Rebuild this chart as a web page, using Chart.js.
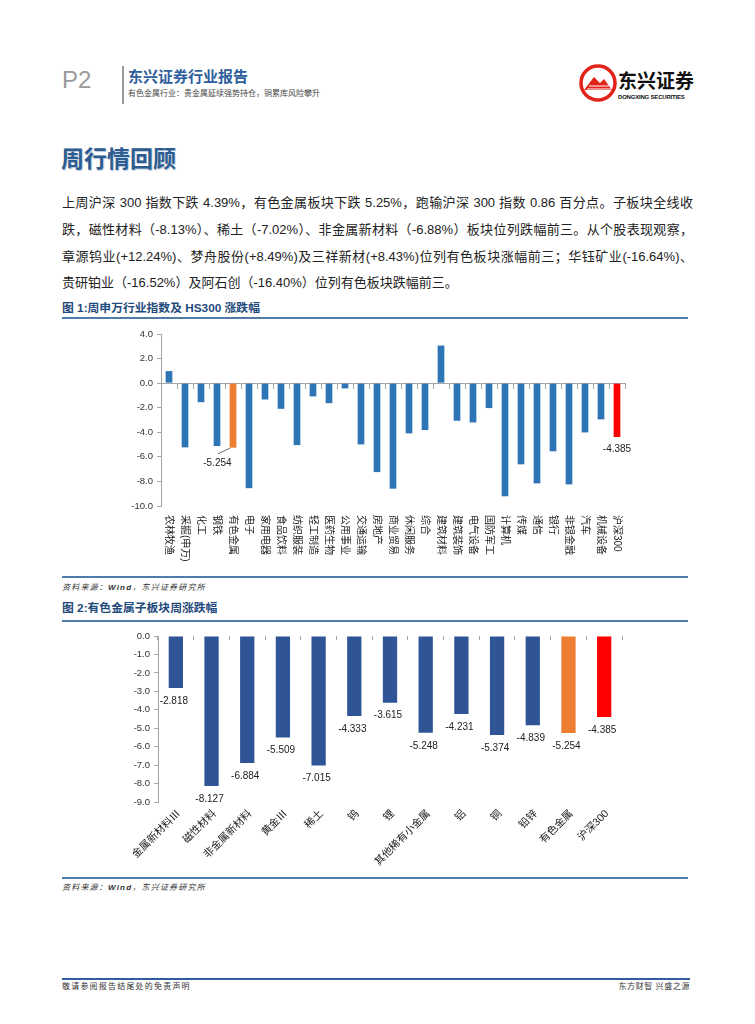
<!DOCTYPE html>
<html>
<head>
<meta charset="utf-8">
<script src="https://cdn.jsdelivr.net/npm/chart.js"></script>
<style>
    body { margin: 0; background: #fff; font-family: "Liberation Sans", "Noto Sans CJK SC", sans-serif; }
    #page { position: relative; width: 755px; height: 1024px; overflow: hidden; background: #fff; }
    .t { position: absolute; white-space: nowrap; line-height: 1; }
    .rule { position: absolute; left: 62px; width: 626px; height: 2px; background: #4f7cab; }
    .para { position: absolute; left: 62px; width: 631px; font-size: 13px; line-height: 1; color: #222;
            text-align: justify; text-align-last: justify; white-space: nowrap; }
    .fig { position: absolute; left: 62px; font-size: 11.8px; font-weight: bold; color: #1f4a7c; line-height: 1; white-space: nowrap; }
    .src { position: absolute; left: 62px; font-size: 8px; font-style: italic; color: #333; line-height: 1;
           white-space: nowrap; letter-spacing: 1.2px; }
    .box { position: absolute; left: 100px; width: 540px; }
</style>
</head>
<body>
<div id="page">
    <!-- header -->
    <div class="t" style="left:62px;top:68px;font-size:24px;color:#9a9a9a;">P2</div>
    <div style="position:absolute;left:122px;top:66px;width:1.5px;height:38px;background:#9a9a9a;"></div>
    <div class="t" style="left:128px;top:69px;font-size:15px;font-weight:bold;color:#2e5e9c;">东兴证券行业报告</div>
    <div class="t" style="left:128px;top:90px;font-size:8px;color:#444;">有色金属行业：贵金属延续强势持仓，铜累库风险攀升</div>
    <svg style="position:absolute;left:578px;top:63px;" width="40" height="40" viewBox="0 0 40 40">
        <circle cx="20" cy="20" r="17" fill="#fff" stroke="#e2231a" stroke-width="3.5"/>
        <path d="M6 27 L16 14 L22 20 L26 16 L34 27 Z" fill="#e2231a"/>
        <path d="M11 23 L31 23 M9 26 L33 26" stroke="#fff" stroke-width="1.2"/>
    </svg>
    <div class="t" style="left:618px;top:72px;font-size:19px;font-weight:bold;color:#111;">东兴证券</div>
    <div class="t" style="left:618px;top:94px;font-size:6px;font-weight:bold;color:#111;letter-spacing:-0.2px;">DONGXING SECURITIES</div>

    <!-- section -->
    <div class="t" style="left:61px;top:148px;font-size:23px;font-weight:bold;color:#2b5c8f;text-shadow:1px 1px 1px #b8c8dc;">周行情回顾</div>
    <div class="para" style="top:196px;">上周沪深 300 指数下跌 4.39%，有色金属板块下跌 5.25%，跑输沪深 300 指数 0.86 百分点。子板块全线收</div>
    <div class="para" style="top:223px;">跌，磁性材料（-8.13%）、稀土（-7.02%）、非金属新材料（-6.88%）板块位列跌幅前三。从个股表现观察，</div>
    <div class="para" style="top:250px;">章源钨业(+12.24%)、梦舟股份(+8.49%)及三祥新材(+8.43%)位列有色板块涨幅前三；华钰矿业(-16.64%)、</div>
    <div class="para" style="top:276px;text-align-last:left;">贵研铂业（-16.52%）及阿石创（-16.40%）位列有色板块跌幅前三。</div>

    <!-- figure 1 -->
    <div class="fig" style="top:303px;">图 1:周申万行业指数及 HS300 涨跌幅</div>
    <div class="rule" style="top:317px;"></div>
    <div class="box" style="top:322px;height:250px;"><canvas id="chart1"></canvas></div>
    <div class="rule" style="top:576px;"></div>
    <div class="src" style="top:584px;">资料来源：<b>Wind</b>，东兴证券研究所</div>

    <!-- figure 2 -->
    <div class="fig" style="top:603px;">图 2:有色金属子板块周涨跌幅</div>
    <div class="rule" style="top:620px;"></div>
    <div class="box" style="top:622px;height:255px;"><canvas id="chart2"></canvas></div>
    <div class="rule" style="top:877px;"></div>
    <div class="src" style="top:884px;">资料来源：<b>Wind</b>，东兴证券研究所</div>

    <!-- footer -->
    <div style="position:absolute;left:62px;top:978px;width:628px;height:2px;background:#2e5e9c;"></div>
    <div class="t" style="left:62px;top:983px;font-size:8px;color:#333;letter-spacing:1.2px;">敬请参阅报告结尾处的免责声明</div>
    <div class="t" style="right:65px;top:983px;font-size:8px;color:#333;letter-spacing:0.6px;">东方财智 兴盛之源</div>
</div>

<script>
    // figure 1: SW industries weekly change (%)
    var industries = ["农林牧渔", "采掘(申万)", "化工", "钢铁", "有色金属", "电子", "家用电器", "食品饮料",
        "纺织服装", "轻工制造", "医药生物", "公用事业", "交通运输", "房地产", "商业贸易", "休闲服务", "综合",
        "建筑材料", "建筑装饰", "电气设备", "国防军工", "计算机", "传媒", "通信", "银行", "非银金融", "汽车",
        "机械设备", "沪深300"];
    var industryChg = [0.98, -5.23, -1.55, -5.12, -5.254, -8.55, -1.33, -2.09, -5.04, -1.08, -1.63, -0.43,
        -4.99, -7.24, -8.59, -4.09, -3.82, 3.06, -3.06, -3.20, -2.03, -9.21, -6.61, -8.16, -5.55, -8.24,
        -4.01, -2.95, -4.385];
    var industryTicks = [4, 2, 0, -2, -4, -6, -8, -10];
    var industryLabeled = ["有色金属", "沪深300"];

    // figure 2: non-ferrous sub-sectors weekly change (%)
    var subSectors = ["金属新材料Ⅲ", "磁性材料", "非金属新材料", "黄金Ⅲ", "稀土", "钨", "锂",
        "其他稀有小金属", "铝", "铜", "铅锌", "有色金属", "沪深300"];
    var subSectorChg = [-2.818, -8.127, -6.884, -5.509, -7.015, -4.333, -3.615, -5.248, -4.231, -5.374,
        -4.839, -5.254, -4.385];
    var subSectorTicks = [0, -1, -2, -3, -4, -5, -6, -7, -8, -9];

    var FONT = '"Liberation Sans", "Noto Sans CJK SC", sans-serif';
    Chart.defaults.font.family = FONT;
    Chart.defaults.color = "#333";

    function barColors(names, blue) {
        return names.map(function (n) {
            if (n === "有色金属") return "#ed7d31";
            if (n === "沪深300") return "#ff0000";
            return blue;
        });
    }

    // category labels drawn below the plot (rotated)
    var catLabels = {
        id: "catLabels",
        afterDraw: function (chart, args, opts) {
            var ctx = chart.ctx;
            var xs = chart.scales.x;
            var area = chart.chartArea;
            ctx.save();
            ctx.font = opts.size + "px " + FONT;
            ctx.fillStyle = "#222";
            ctx.textBaseline = "middle";
            ctx.textAlign = opts.align;
            chart.data.labels.forEach(function (label, i) {
                ctx.save();
                ctx.translate(xs.getPixelForValue(i) + opts.dx, area.bottom + opts.dy);
                ctx.rotate(opts.angle);
                ctx.fillText(label, 0, 0);
                ctx.restore();
            });
            ctx.restore();
        }
    };

    // value labels under the bars
    var valueLabels = {
        id: "valueLabels",
        afterDatasetsDraw: function (chart, args, opts) {
            var ctx = chart.ctx;
            var meta = chart.getDatasetMeta(0);
            var data = chart.data.datasets[0].data;
            ctx.save();
            ctx.font = opts.size + "px " + FONT;
            ctx.fillStyle = "#222";
            ctx.textAlign = "center";
            ctx.textBaseline = "middle";
            meta.data.forEach(function (bar, i) {
                var name = chart.data.labels[i];
                if (opts.only && opts.only.indexOf(name) < 0) return;
                var off = (opts.offsets && opts.offsets[name]) || opts.offset;
                ctx.fillText(data[i].toFixed(3), bar.x + off[0], bar.y + off[1]);
                var ld = opts.leaders && opts.leaders[name];
                if (ld) {
                    ctx.strokeStyle = "#444";
                    ctx.lineWidth = 0.8;
                    ctx.beginPath();
                    ctx.moveTo(bar.x + ld[0], bar.y + ld[1]);
                    ctx.lineTo(bar.x + ld[2], bar.y + ld[3]);
                    ctx.stroke();
                }
            });
            ctx.restore();
        }
    };

    function yScale(ticks, width) {
        return {
            min: ticks[ticks.length - 1],
            max: ticks[0],
            afterFit: function (s) { s.width = width; },
            ticks: {
                stepSize: Math.abs(ticks[0] - ticks[1]),
                padding: 4,
                font: { size: 9.5 },
                color: "#333",
                callback: function (v) { return v.toFixed(1); }
            },
            grid: { drawOnChartArea: false, drawTicks: true, tickLength: 4, color: "#a6a6a6" },
            border: { color: "#a6a6a6" }
        };
    }

    var chart1 = new Chart(document.getElementById("chart1"), {
        type: "bar",
        data: {
            labels: industries,
            datasets: [{
                data: industryChg,
                backgroundColor: barColors(industries, "#2e75b6"),
                categoryPercentage: 1,
                barPercentage: 0.42
            }]
        },
        options: {
            responsive: true,
            maintainAspectRatio: false,
            animation: false,
            layout: { padding: { top: 12, bottom: 66, right: 15, left: 0 } },
            plugins: {
                legend: { display: false },
                tooltip: { enabled: false },
                catLabels: { size: 10, angle: Math.PI / 2, align: "left", dx: 0, dy: 9 },
                valueLabels: {
                    size: 10,
                    only: industryLabeled,
                    offset: [0, 12.7],
                    offsets: { "有色金属": [-15.6, 15.4] },
                    leaders: { "有色金属": [-15, 6, -3, 0.5] }
                }
            },
            scales: {
                x: {
                    position: { y: 0 },
                    ticks: { display: false },
                    grid: { drawOnChartArea: false, drawTicks: true, tickLength: 5, color: "#a6a6a6", offset: true },
                    border: { color: "#a6a6a6" }
                },
                y: yScale(industryTicks, 61)
            }
        },
        plugins: [catLabels, valueLabels]
    });

    var chart2 = new Chart(document.getElementById("chart2"), {
        type: "bar",
        data: {
            labels: subSectors,
            datasets: [{
                data: subSectorChg,
                backgroundColor: barColors(subSectors, "#2f5597"),
                categoryPercentage: 1,
                barPercentage: 0.4
            }]
        },
        options: {
            responsive: true,
            maintainAspectRatio: false,
            animation: false,
            layout: { padding: { top: 14, bottom: 75, right: 18, left: 0 } },
            plugins: {
                legend: { display: false },
                tooltip: { enabled: false },
                catLabels: { size: 10.5, angle: -Math.PI / 4, align: "right", dx: 3, dy: 10 },
                valueLabels: { size: 10, offset: [-2, 13] }
            },
            scales: {
                x: {
                    position: { y: 0 },
                    ticks: { display: false },
                    grid: { drawOnChartArea: false, drawTicks: true, tickLength: 4, color: "#a6a6a6", offset: true },
                    border: { display: false }
                },
                y: yScale(subSectorTicks, 58)
            }
        },
        plugins: [catLabels, valueLabels]
    });
</script>
</body>
</html>
